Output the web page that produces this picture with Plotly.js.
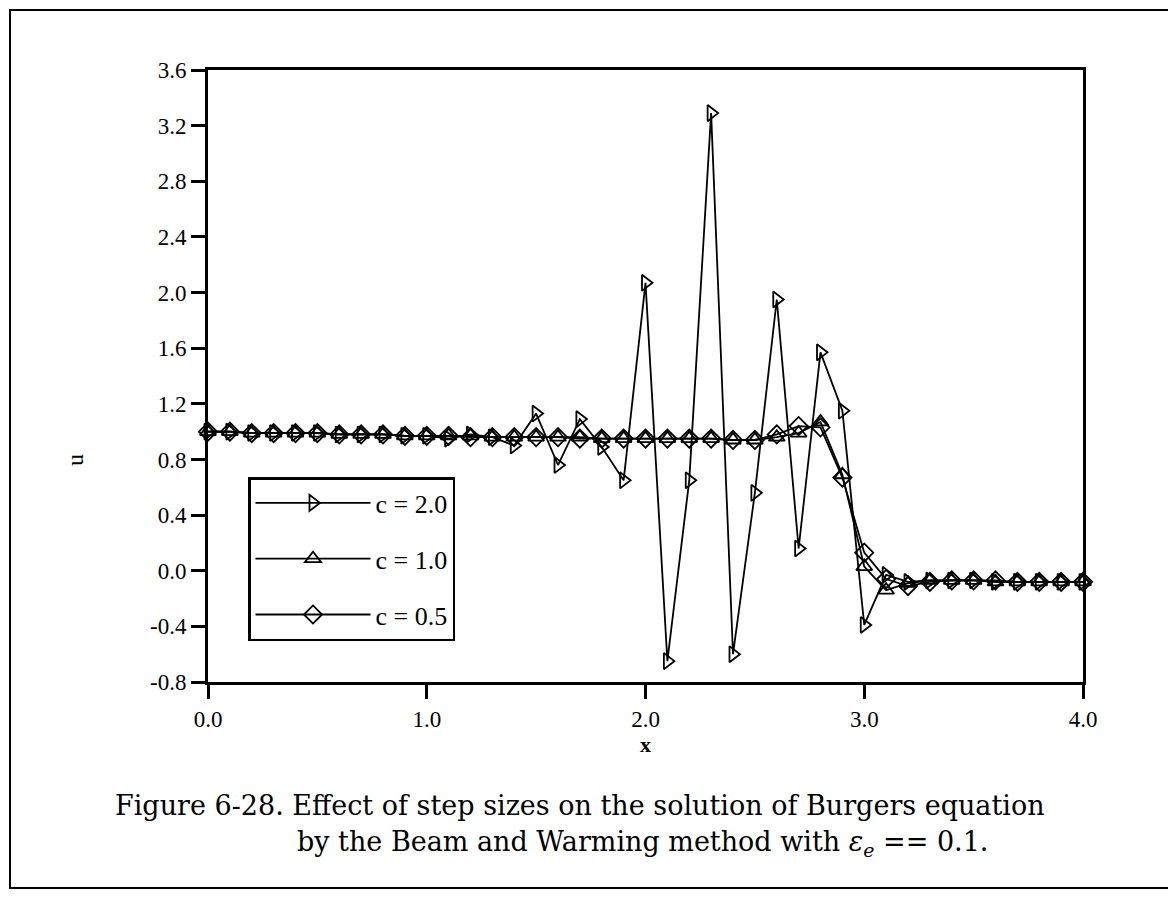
<!DOCTYPE html>
<html>
<head>
<meta charset="utf-8">
<script src="https://cdn.plot.ly/plotly-3.0.1.min.js"></script>
<style>html,body{margin:0;padding:0;background:#fff;}#chart{width:1168px;height:901px;}</style>
</head>
<body>
<div id="chart"></div>
<script>
const xValues = [0.0,0.1,0.2,0.3,0.4,0.5,0.6,0.7,0.8,0.9,1.0,1.1,1.2,1.3,1.4,1.5,1.6,1.7,1.8,1.9,2.0,2.1,2.2,2.3,2.4,2.5,2.6,2.7,2.8,2.9,3.0,3.1,3.2,3.3,3.4,3.5,3.6,3.7,3.8,3.9,4.0];
const uC20 = [1.00,1.00,0.99,0.99,0.99,0.99,0.98,0.98,0.98,0.97,0.97,0.95,0.98,0.96,0.90,1.13,0.76,1.09,0.89,0.65,2.07,-0.65,0.65,3.29,-0.60,0.56,1.95,0.16,1.57,1.15,-0.39,-0.03,-0.08,-0.07,-0.07,-0.07,-0.08,-0.08,-0.08,-0.08,-0.08];
const uC10 = [1.00,1.00,0.99,0.99,0.99,0.99,0.98,0.98,0.98,0.97,0.97,0.97,0.97,0.96,0.96,0.96,0.96,0.96,0.95,0.95,0.95,0.95,0.95,0.95,0.94,0.94,0.96,0.99,1.07,0.69,0.03,-0.14,-0.09,-0.07,-0.07,-0.07,-0.08,-0.08,-0.08,-0.08,-0.08];
const uC05 = [1.00,1.00,0.99,0.99,0.99,0.99,0.98,0.98,0.98,0.97,0.97,0.97,0.96,0.96,0.96,0.96,0.96,0.95,0.95,0.95,0.95,0.95,0.95,0.95,0.94,0.94,0.98,1.04,1.03,0.67,0.13,-0.06,-0.11,-0.08,-0.07,-0.07,-0.07,-0.08,-0.08,-0.08,-0.08];
const seriesNames = ["c = 2.0","c = 1.0","c = 0.5"];
const xTicks = [0,1,2,3,4];
const xTickText = ["0.0","1.0","2.0","3.0","4.0"];
const yTicks = [-0.8,-0.4,0.0,0.4,0.8,1.2,1.6,2.0,2.4,2.8,3.2,3.6];
const yTickText = ["-0.8","-0.4","0.0","0.4","0.8","1.2","1.6","2.0","2.4","2.8","3.2","3.6"];
const xTitle = "x";
const yTitle = "u";
const captionLine1 = "Figure 6-28. Effect of step sizes on the solution of Burgers equation";
const captionLine2 = "by the Beam and Warming method with <i>ε<sub>e</sub></i> == 0.1.";

const serif = "Liberation Serif";
const capFont = "DejaVu Serif";
function mk(y, name, sym, grp) {
  return {
    x: xValues, y: y, name: name, type: 'scatter', mode: 'lines+markers',
    legendgroup: grp,
    line: {color: '#000', width: 1.8},
    marker: {symbol: sym, size: 14, color: '#000', line: {color: '#000', width: 1.8}},
    cliponaxis: false
  };
}
const data = [
  mk(uC20, seriesNames[0], 'triangle-right-open', 'a'),
  mk(uC10, seriesNames[1], 'triangle-up-open', 'b'),
  mk(uC05, seriesNames[2], 'diamond-open', 'c')
];
const px = X => (X - 208) / 875;
const py = Y => (682 - Y) / 612;
const layout = {
  width: 1168, height: 901,
  margin: {l: 208, r: 85, t: 70, b: 219},
  paper_bgcolor: '#fff', plot_bgcolor: '#fff',
  showlegend: true,
  legend: {
    x: px(248), y: py(477), xanchor: 'left', yanchor: 'top',
    bgcolor: '#fff', bordercolor: '#000', borderwidth: 2.5,
    font: {family: serif, size: 26, color: '#000'},
    itemwidth: 115, tracegroupgap: 19
  },
  xaxis: {
    range: [0, 4], tickvals: xTicks, ticktext: xTickText,
    showgrid: false, zeroline: false,
    showline: true, linecolor: '#000', linewidth: 3, mirror: true,
    ticks: 'outside', ticklen: 14, tickwidth: 3, tickcolor: '#000',
    tickfont: {family: serif, size: 23, color: '#000'},
    title: {text: '<b>' + xTitle + '</b>', font: {family: serif, size: 22, color: '#000'}, standoff: 4}
  },
  yaxis: {
    range: [-0.8, 3.6], tickvals: yTicks, ticktext: yTickText,
    showgrid: false, zeroline: false,
    showline: true, linecolor: '#000', linewidth: 3, mirror: true,
    ticks: 'outside', ticklen: 14, tickwidth: 3, tickcolor: '#000',
    tickfont: {family: serif, size: 23, color: '#000'}
  },
  shapes: [{
    type: 'rect', xref: 'paper', yref: 'paper',
    x0: px(10), x1: px(1180), y0: py(888), y1: py(10),
    line: {color: '#000', width: 2}, fillcolor: 'rgba(0,0,0,0)', layer: 'below'
  }],
  annotations: [
    {text: yTitle, xref: 'paper', yref: 'paper', x: px(75), y: py(460),
     xanchor: 'center', yanchor: 'middle', textangle: -90, showarrow: false,
     font: {family: serif, size: 24, color: '#000'}},
    {text: captionLine1, xref: 'paper', yref: 'paper', x: px(113), y: py(805),
     xanchor: 'left', yanchor: 'middle', showarrow: false,
     font: {family: capFont, size: 27, color: '#000'}},
    {text: captionLine2, xref: 'paper', yref: 'paper', x: px(295), y: py(843),
     xanchor: 'left', yanchor: 'middle', showarrow: false,
     font: {family: capFont, size: 27, color: '#000'}}
  ]
};
Plotly.newPlot('chart', data, layout, {displayModeBar: false, staticPlot: true});
</script>
</body>
</html>
